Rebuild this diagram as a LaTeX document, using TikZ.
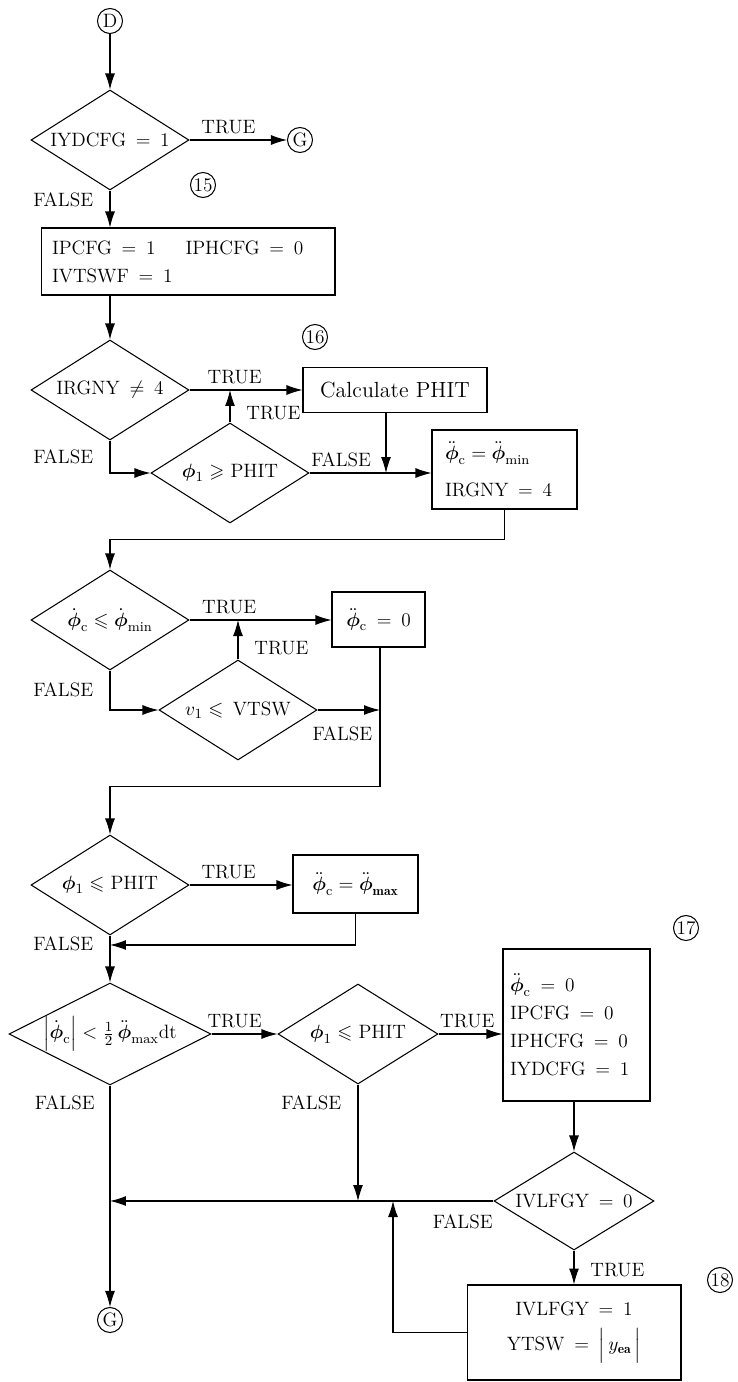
\documentclass[tikz,border=0pt]{standalone}
\usepackage{amsmath}
\usepackage{amssymb}
\usepackage{fontspec}
\usetikzlibrary{shapes.geometric,arrows.meta}

\newcommand{\centred}[1]{\makebox[0pt]{#1}}
\newcommand{\eqs}{\enspace=\enspace}
\newcommand{\phib}{\boldsymbol{\phi}}
\newcommand{\phid}{\dot{\boldsymbol{\phi}}}
\newcommand{\phidd}{\ddot{\boldsymbol{\phi}}}

\begin{document}
\begin{tikzpicture}[
        x=0.02cm, y=-0.02cm, line width=0.6pt,
        every node/.style={font=\fontsize{11}{16}\selectfont},
        decision/.style={draw, diamond, inner sep=0pt, minimum width=3.16cm, minimum height=2cm},
        process/.style={draw, rectangle, inner sep=0pt},
        connector/.style={draw, circle, inner sep=0pt, minimum size=0.5cm},
        flow/.style={-{Latex[length=3.2mm,width=2mm]}}
    ]
    \useasboundingbox (0,0) rectangle (737,1382);

    % first test
    \node[connector] (conD) at (110,21) {D};
    \node[decision] (ydcfg) at (110,140) {\centred{IYDCFG\eqs 1}};
    \node[connector] (conG1) at (300,140) {G};
    \node[connector] (m15) at (203,185) {15};
    \node[process, minimum height=1.34cm, text width=5.44cm, inner xsep=0.22cm, align=left] (init) at (188,261.5)
        {IPCFG\eqs 1\hspace{0.6cm}IPHCFG\eqs 0\\ IVTSWF\eqs 1};

    % block 16
    \node[decision] (rgny) at (110,390) {\centred{IRGNY\enspace$\neq$\enspace 4}};
    \node[connector] (m16) at (315,337) {16};
    \node[process, minimum width=3.68cm, minimum height=0.9cm] (calc) at (395,390)
        {\fontsize{12.5}{16}\selectfont Calculate PHIT};
    \node[decision] (phit1) at (230,473) {\centred{$\phib_1 \geqslant$ PHIT}};
    \node[process, minimum height=1.58cm, text width=2.38cm, inner xsep=0.26cm, align=left] (pmin) at (504.5,469.5)
        {$\phidd_{\mathrm{c}} = \phidd_{\mathrm{min}}$\\[5pt] IRGNY\eqs 4};

    \node[decision] (cmin) at (110,620) {\centred{$\phid_{\mathrm{c}} \leqslant \phid_{\mathrm{min}}$}};
    \node[process, minimum width=1.86cm, minimum height=1.1cm] (zero1) at (378.5,619.5) {$\phidd_{\mathrm{c}}$\eqs 0};
    \node[decision] (vtsw) at (238,710) {\centred{$v_1 \leqslant$\enspace VTSW}};

    \node[decision] (phit2) at (110,885) {\centred{$\phib_1 \leqslant$ PHIT}};
    \node[process, minimum width=2.5cm, minimum height=1.16cm] (pmax) at (355.5,884)
        {$\phidd_{\mathrm{c}} = \phidd_{\mathbf{max}}$};

    % block 17
    \node[decision, minimum width=4.04cm, minimum height=2.04cm] (rate) at (110,1034)
        {\centred{$\left|\phid_{\mathrm{c}}\right| < \frac{1}{2}\,\phidd_{\mathrm{max}}\mathrm{dt}$}};
    \node[decision, minimum width=3.2cm] (phit3) at (358,1034) {\centred{$\phib_1 \leqslant$ PHIT}};
    \node[process, minimum height=3.04cm, text width=2.66cm, inner xsep=0.14cm, align=left] (reset) at (576.5,1025)
        {$\phidd_{\mathrm{c}}$\eqs 0\\ IPCFG\eqs 0\\ IPHCFG\eqs 0\\ IYDCFG\eqs 1};
    \node[connector] (m17) at (686,928) {17};

    % block 18
    \node[decision, minimum width=3.2cm, minimum height=1.96cm] (vlfgy) at (574,1201) {\centred{IVLFGY\eqs 0}};
    \node[process, minimum width=4.28cm, minimum height=1.9cm, align=center] (ytsw) at (574,1332.5)
        {IVLFGY\eqs 1\\[4pt] YTSW\eqs $\left|\,y_{\mathbf{ea}}\vphantom{\Big|}\,\right|$};
    \node[connector] (m18) at (720,1280) {18};
    \node[connector] (conG2) at (110,1320) {G};

    \coordinate (j1) at (386,473);
    \coordinate (j2) at (380,710);
    \coordinate (j3) at (110,945);
    \coordinate (j4) at (110,1201);
    \coordinate (j5) at (393,1201);

    \draw[flow] (conD) -- (ydcfg);
    \draw[flow] (ydcfg) -- node[above, pos=0.4] {TRUE} (conG1);
    \draw[flow] (ydcfg.south) -- node[pos=0.25, left=0.21cm] {FALSE} (ydcfg.south |- init.north);
    \draw[flow] (init.south -| rgny.north) -- (rgny.north);

    \draw[flow] (rgny) -- node[above, pos=0.4] {TRUE} (calc);
    \draw[flow] (rgny.south) |- node[pos=0.25, left=0.21cm] {FALSE} (phit1.west);
    \draw[flow] (phit1.north) -- node[pos=0.3, right=0.2cm] {TRUE} (phit1.north |- rgny.east);
    \draw[flow] (phit1) -- node[above, pos=0.26] {FALSE} (phit1 -| pmin.west);
    \draw[flow] (calc.south -| j1) -- (j1);
    \draw[flow] (pmin.south) -- ++(0,30) -| (cmin.north);

    \draw[flow] (cmin) -- node[above, pos=0.28] {TRUE} (cmin -| zero1.west);
    \draw[flow] (cmin.south) |- node[pos=0.25, left=0.21cm] {FALSE} (vtsw.west);
    \draw[flow] (vtsw.north) -- node[pos=0.3, right=0.2cm] {TRUE} (vtsw.north |- cmin.east);
    \draw[flow] (vtsw.east) -- node[below=0.2cm, pos=0.4] {FALSE} (j2);
    \draw[flow] (zero1.south -| j2) -- ++(0,139) -| (phit2.north);

    \draw[flow] (phit2) -- node[above, pos=0.38] {TRUE} (phit2 -| pmax.west);
    \draw[flow] (pmax.south) |- (j3);
    \draw[flow] (phit2.south) -- node[pos=0.17, left=0.21cm] {FALSE} (rate.north);

    \draw[flow] (rate) -- node[above, pos=0.35] {TRUE} (phit3);
    \draw[flow] (phit3) -- node[above, pos=0.45] {TRUE} (phit3 -| reset.west);
    \draw[flow] (rate.south) -- node[pos=0.08, left=0.18cm] {FALSE} (conG2);
    \draw[flow] (phit3.south) -- node[pos=0.16, left=0.21cm] {FALSE} (phit3.south |- j4);
    \draw[flow] (reset.south -| vlfgy.north) -- (vlfgy.north);
    \draw[flow] (vlfgy.west) -- node[below=0.15cm, pos=0.08] {FALSE} (j4);
    \draw[flow] (vlfgy.south) -- node[pos=0.57, right=0.2cm] {TRUE} (ytsw.north);
    \draw[flow] (ytsw.west) -| (j5);

\end{tikzpicture}
\end{document}
